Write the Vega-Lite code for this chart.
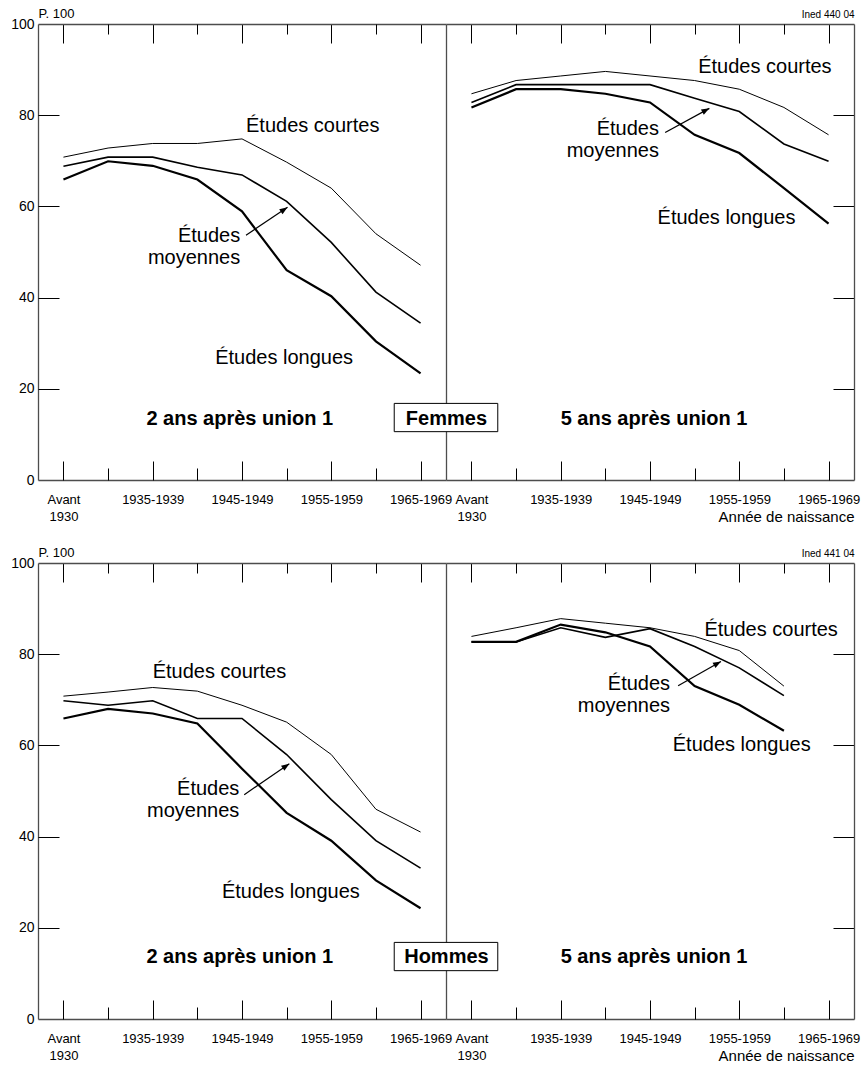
{
  "$schema": "https://vega.github.io/schema/vega-lite/v6.json",
  "padding": {"left": 10, "top": 7, "right": 5, "bottom": 2},
  "bounds": "flush",
  "columns": 2,
  "spacing": {"row": 83, "column": 0},
  "datasets": {
    "taux": [
      {"sexe": "Femmes", "duree": "2 ans", "niveau": "courtes", "cohorte": 0, "p": 70.8},
      {"sexe": "Femmes", "duree": "2 ans", "niveau": "courtes", "cohorte": 1, "p": 72.8},
      {"sexe": "Femmes", "duree": "2 ans", "niveau": "courtes", "cohorte": 2, "p": 73.8},
      {"sexe": "Femmes", "duree": "2 ans", "niveau": "courtes", "cohorte": 3, "p": 73.8},
      {"sexe": "Femmes", "duree": "2 ans", "niveau": "courtes", "cohorte": 4, "p": 74.8},
      {"sexe": "Femmes", "duree": "2 ans", "niveau": "courtes", "cohorte": 5, "p": 69.7},
      {"sexe": "Femmes", "duree": "2 ans", "niveau": "courtes", "cohorte": 6, "p": 64.0},
      {"sexe": "Femmes", "duree": "2 ans", "niveau": "courtes", "cohorte": 7, "p": 54.0},
      {"sexe": "Femmes", "duree": "2 ans", "niveau": "courtes", "cohorte": 8, "p": 47.1},
      {"sexe": "Femmes", "duree": "2 ans", "niveau": "moyennes", "cohorte": 0, "p": 68.8},
      {"sexe": "Femmes", "duree": "2 ans", "niveau": "moyennes", "cohorte": 1, "p": 70.8},
      {"sexe": "Femmes", "duree": "2 ans", "niveau": "moyennes", "cohorte": 2, "p": 70.8},
      {"sexe": "Femmes", "duree": "2 ans", "niveau": "moyennes", "cohorte": 3, "p": 68.6},
      {"sexe": "Femmes", "duree": "2 ans", "niveau": "moyennes", "cohorte": 4, "p": 66.9},
      {"sexe": "Femmes", "duree": "2 ans", "niveau": "moyennes", "cohorte": 5, "p": 61.1},
      {"sexe": "Femmes", "duree": "2 ans", "niveau": "moyennes", "cohorte": 6, "p": 52.1},
      {"sexe": "Femmes", "duree": "2 ans", "niveau": "moyennes", "cohorte": 7, "p": 41.2},
      {"sexe": "Femmes", "duree": "2 ans", "niveau": "moyennes", "cohorte": 8, "p": 34.4},
      {"sexe": "Femmes", "duree": "2 ans", "niveau": "longues", "cohorte": 0, "p": 65.9},
      {"sexe": "Femmes", "duree": "2 ans", "niveau": "longues", "cohorte": 1, "p": 69.9},
      {"sexe": "Femmes", "duree": "2 ans", "niveau": "longues", "cohorte": 2, "p": 68.9},
      {"sexe": "Femmes", "duree": "2 ans", "niveau": "longues", "cohorte": 3, "p": 65.9},
      {"sexe": "Femmes", "duree": "2 ans", "niveau": "longues", "cohorte": 4, "p": 58.9},
      {"sexe": "Femmes", "duree": "2 ans", "niveau": "longues", "cohorte": 5, "p": 46.0},
      {"sexe": "Femmes", "duree": "2 ans", "niveau": "longues", "cohorte": 6, "p": 40.3},
      {"sexe": "Femmes", "duree": "2 ans", "niveau": "longues", "cohorte": 7, "p": 30.4},
      {"sexe": "Femmes", "duree": "2 ans", "niveau": "longues", "cohorte": 8, "p": 23.4},
      {"sexe": "Femmes", "duree": "5 ans", "niveau": "courtes", "cohorte": 0, "p": 84.7},
      {"sexe": "Femmes", "duree": "5 ans", "niveau": "courtes", "cohorte": 1, "p": 87.6},
      {"sexe": "Femmes", "duree": "5 ans", "niveau": "courtes", "cohorte": 2, "p": 88.6},
      {"sexe": "Femmes", "duree": "5 ans", "niveau": "courtes", "cohorte": 3, "p": 89.6},
      {"sexe": "Femmes", "duree": "5 ans", "niveau": "courtes", "cohorte": 4, "p": 88.6},
      {"sexe": "Femmes", "duree": "5 ans", "niveau": "courtes", "cohorte": 5, "p": 87.6},
      {"sexe": "Femmes", "duree": "5 ans", "niveau": "courtes", "cohorte": 6, "p": 85.7},
      {"sexe": "Femmes", "duree": "5 ans", "niveau": "courtes", "cohorte": 7, "p": 81.7},
      {"sexe": "Femmes", "duree": "5 ans", "niveau": "courtes", "cohorte": 8, "p": 75.7},
      {"sexe": "Femmes", "duree": "5 ans", "niveau": "moyennes", "cohorte": 0, "p": 82.8},
      {"sexe": "Femmes", "duree": "5 ans", "niveau": "moyennes", "cohorte": 1, "p": 86.7},
      {"sexe": "Femmes", "duree": "5 ans", "niveau": "moyennes", "cohorte": 2, "p": 86.7},
      {"sexe": "Femmes", "duree": "5 ans", "niveau": "moyennes", "cohorte": 3, "p": 86.7},
      {"sexe": "Femmes", "duree": "5 ans", "niveau": "moyennes", "cohorte": 4, "p": 86.7},
      {"sexe": "Femmes", "duree": "5 ans", "niveau": "moyennes", "cohorte": 5, "p": 83.7},
      {"sexe": "Femmes", "duree": "5 ans", "niveau": "moyennes", "cohorte": 6, "p": 80.8},
      {"sexe": "Femmes", "duree": "5 ans", "niveau": "moyennes", "cohorte": 7, "p": 73.7},
      {"sexe": "Femmes", "duree": "5 ans", "niveau": "moyennes", "cohorte": 8, "p": 69.9},
      {"sexe": "Femmes", "duree": "5 ans", "niveau": "longues", "cohorte": 0, "p": 81.7},
      {"sexe": "Femmes", "duree": "5 ans", "niveau": "longues", "cohorte": 1, "p": 85.7},
      {"sexe": "Femmes", "duree": "5 ans", "niveau": "longues", "cohorte": 2, "p": 85.7},
      {"sexe": "Femmes", "duree": "5 ans", "niveau": "longues", "cohorte": 3, "p": 84.7},
      {"sexe": "Femmes", "duree": "5 ans", "niveau": "longues", "cohorte": 4, "p": 82.8},
      {"sexe": "Femmes", "duree": "5 ans", "niveau": "longues", "cohorte": 5, "p": 75.7},
      {"sexe": "Femmes", "duree": "5 ans", "niveau": "longues", "cohorte": 6, "p": 71.7},
      {"sexe": "Femmes", "duree": "5 ans", "niveau": "longues", "cohorte": 7, "p": 64.0},
      {"sexe": "Femmes", "duree": "5 ans", "niveau": "longues", "cohorte": 8, "p": 56.2},
      {"sexe": "Hommes", "duree": "2 ans", "niveau": "courtes", "cohorte": 0, "p": 70.8},
      {"sexe": "Hommes", "duree": "2 ans", "niveau": "courtes", "cohorte": 1, "p": 71.7},
      {"sexe": "Hommes", "duree": "2 ans", "niveau": "courtes", "cohorte": 2, "p": 72.7},
      {"sexe": "Hommes", "duree": "2 ans", "niveau": "courtes", "cohorte": 3, "p": 71.9},
      {"sexe": "Hommes", "duree": "2 ans", "niveau": "courtes", "cohorte": 4, "p": 68.8},
      {"sexe": "Hommes", "duree": "2 ans", "niveau": "courtes", "cohorte": 5, "p": 65.1},
      {"sexe": "Hommes", "duree": "2 ans", "niveau": "courtes", "cohorte": 6, "p": 58.0},
      {"sexe": "Hommes", "duree": "2 ans", "niveau": "courtes", "cohorte": 7, "p": 46.0},
      {"sexe": "Hommes", "duree": "2 ans", "niveau": "courtes", "cohorte": 8, "p": 41.0},
      {"sexe": "Hommes", "duree": "2 ans", "niveau": "moyennes", "cohorte": 0, "p": 69.8},
      {"sexe": "Hommes", "duree": "2 ans", "niveau": "moyennes", "cohorte": 1, "p": 68.8},
      {"sexe": "Hommes", "duree": "2 ans", "niveau": "moyennes", "cohorte": 2, "p": 69.8},
      {"sexe": "Hommes", "duree": "2 ans", "niveau": "moyennes", "cohorte": 3, "p": 65.9},
      {"sexe": "Hommes", "duree": "2 ans", "niveau": "moyennes", "cohorte": 4, "p": 65.9},
      {"sexe": "Hommes", "duree": "2 ans", "niveau": "moyennes", "cohorte": 5, "p": 58.0},
      {"sexe": "Hommes", "duree": "2 ans", "niveau": "moyennes", "cohorte": 6, "p": 48.1},
      {"sexe": "Hommes", "duree": "2 ans", "niveau": "moyennes", "cohorte": 7, "p": 39.1},
      {"sexe": "Hommes", "duree": "2 ans", "niveau": "moyennes", "cohorte": 8, "p": 33.1},
      {"sexe": "Hommes", "duree": "2 ans", "niveau": "longues", "cohorte": 0, "p": 65.9},
      {"sexe": "Hommes", "duree": "2 ans", "niveau": "longues", "cohorte": 1, "p": 68.0},
      {"sexe": "Hommes", "duree": "2 ans", "niveau": "longues", "cohorte": 2, "p": 67.0},
      {"sexe": "Hommes", "duree": "2 ans", "niveau": "longues", "cohorte": 3, "p": 64.8},
      {"sexe": "Hommes", "duree": "2 ans", "niveau": "longues", "cohorte": 4, "p": 54.9},
      {"sexe": "Hommes", "duree": "2 ans", "niveau": "longues", "cohorte": 5, "p": 45.2},
      {"sexe": "Hommes", "duree": "2 ans", "niveau": "longues", "cohorte": 6, "p": 39.1},
      {"sexe": "Hommes", "duree": "2 ans", "niveau": "longues", "cohorte": 7, "p": 30.4},
      {"sexe": "Hommes", "duree": "2 ans", "niveau": "longues", "cohorte": 8, "p": 24.3},
      {"sexe": "Hommes", "duree": "5 ans", "niveau": "courtes", "cohorte": 0, "p": 83.9},
      {"sexe": "Hommes", "duree": "5 ans", "niveau": "courtes", "cohorte": 1, "p": 85.8},
      {"sexe": "Hommes", "duree": "5 ans", "niveau": "courtes", "cohorte": 2, "p": 87.8},
      {"sexe": "Hommes", "duree": "5 ans", "niveau": "courtes", "cohorte": 3, "p": 86.8},
      {"sexe": "Hommes", "duree": "5 ans", "niveau": "courtes", "cohorte": 4, "p": 85.8},
      {"sexe": "Hommes", "duree": "5 ans", "niveau": "courtes", "cohorte": 5, "p": 83.9},
      {"sexe": "Hommes", "duree": "5 ans", "niveau": "courtes", "cohorte": 6, "p": 80.8},
      {"sexe": "Hommes", "duree": "5 ans", "niveau": "courtes", "cohorte": 7, "p": 73.0},
      {"sexe": "Hommes", "duree": "5 ans", "niveau": "moyennes", "cohorte": 0, "p": 82.7},
      {"sexe": "Hommes", "duree": "5 ans", "niveau": "moyennes", "cohorte": 1, "p": 82.7},
      {"sexe": "Hommes", "duree": "5 ans", "niveau": "moyennes", "cohorte": 2, "p": 85.8},
      {"sexe": "Hommes", "duree": "5 ans", "niveau": "moyennes", "cohorte": 3, "p": 83.7},
      {"sexe": "Hommes", "duree": "5 ans", "niveau": "moyennes", "cohorte": 4, "p": 85.6},
      {"sexe": "Hommes", "duree": "5 ans", "niveau": "moyennes", "cohorte": 5, "p": 81.7},
      {"sexe": "Hommes", "duree": "5 ans", "niveau": "moyennes", "cohorte": 6, "p": 77.0},
      {"sexe": "Hommes", "duree": "5 ans", "niveau": "moyennes", "cohorte": 7, "p": 70.9},
      {"sexe": "Hommes", "duree": "5 ans", "niveau": "longues", "cohorte": 0, "p": 82.7},
      {"sexe": "Hommes", "duree": "5 ans", "niveau": "longues", "cohorte": 1, "p": 82.7},
      {"sexe": "Hommes", "duree": "5 ans", "niveau": "longues", "cohorte": 2, "p": 86.5},
      {"sexe": "Hommes", "duree": "5 ans", "niveau": "longues", "cohorte": 3, "p": 84.8},
      {"sexe": "Hommes", "duree": "5 ans", "niveau": "longues", "cohorte": 4, "p": 81.7},
      {"sexe": "Hommes", "duree": "5 ans", "niveau": "longues", "cohorte": 5, "p": 73.0},
      {"sexe": "Hommes", "duree": "5 ans", "niveau": "longues", "cohorte": 6, "p": 68.9},
      {"sexe": "Hommes", "duree": "5 ans", "niveau": "longues", "cohorte": 7, "p": 63.2}
    ]
  },
  "concat": [
    {
      "width": 408,
      "height": 456,
      "layer": [
        {
          "data": {"name": "taux"},
          "transform": [{"filter": "datum.sexe == 'Femmes' && datum.duree == '2 ans'"}],
          "mark": {"type": "line", "color": "#000"},
          "encoding": {
            "x": {"field": "cohorte", "type": "quantitative", "scale": {"domain": [-0.57, 8.57], "nice": false, "zero": false},
              "axis": {"orient": "bottom", "values": [0, 2, 4, 6, 8], "ticks": false, "domain": true, "labelFontSize": 13, "labelPadding": 23, "labelBaseline": "alphabetic", "labelLineHeight": 17.5, "labelExpr": "datum.value == 0 ? ['Avant', '1930'] : (1925 + 5 * datum.value) + '-' + (1929 + 5 * datum.value)", "title": null}},
            "y": {"field": "p", "type": "quantitative", "scale": {"domain": [0, 100], "nice": false, "zero": false},
              "axis": {"orient": "left", "values": [0, 20, 40, 60, 80, 100], "ticks": false, "domain": true, "labelFontSize": 14, "labelPadding": 4, "title": "P. 100", "titleAngle": 0, "titleX": 0, "titleY": -6.5, "titleAlign": "left", "titleBaseline": "alphabetic", "titleFontSize": 13}},
            "strokeWidth": {"field": "niveau", "type": "ordinal", "scale": {"domain": ["courtes", "moyennes", "longues"], "range": [1, 2.2, 3.3]}, "legend": null},
            "detail": {"field": "niveau"}
          }
        },
        {
          "data": {"values": [{}]},
          "mark": {"type": "text", "text": "Études courtes", "align": "left", "baseline": "alphabetic", "fontSize": 20},
          "encoding": {
            "x": {"datum": 4.09, "type": "quantitative", "scale": {"domain": [-0.57, 8.57], "nice": false, "zero": false},
              "axis": {"orient": "bottom", "values": [0, 2, 4, 6, 8], "labels": false, "domain": false, "tickSize": -19, "title": null}},
            "y": {"datum": 76.3, "type": "quantitative", "scale": {"domain": [0, 100], "nice": false, "zero": false},
              "axis": {"orient": "left", "values": [20, 40, 60, 80], "labels": false, "domain": false, "tickSize": -21, "title": null}}
          }
        },
        {
          "data": {"values": [{}]},
          "mark": {"type": "text", "text": ["Études", "moyennes"], "align": "right", "baseline": "alphabetic", "fontSize": 20, "lineHeight": 22},
          "encoding": {
            "x": {"datum": 3.96, "type": "quantitative", "scale": {"domain": [-0.57, 8.57], "nice": false, "zero": false},
              "axis": {"orient": "bottom", "values": [1, 3, 5, 7], "labels": false, "domain": false, "tickSize": -12, "title": null}},
            "y": {"datum": 52.3, "type": "quantitative", "scale": {"domain": [0, 100], "nice": false, "zero": false}, "axis": null}
          }
        },
        {
          "data": {"values": [{}]},
          "mark": {"type": "text", "text": "Études longues", "align": "left", "baseline": "alphabetic", "fontSize": 20},
          "encoding": {
            "x": {"datum": 3.4, "type": "quantitative", "scale": {"domain": [-0.57, 8.57], "nice": false, "zero": false},
              "axis": {"orient": "top", "values": [0, 2, 4, 6, 8], "labels": false, "domain": true, "tickSize": -19, "title": null}},
            "y": {"datum": 25.5, "type": "quantitative", "scale": {"domain": [0, 100], "nice": false, "zero": false}, "axis": null}
          }
        },
        {
          "data": {"values": [{}]},
          "mark": {"type": "text", "text": "2 ans après union 1", "align": "center", "baseline": "alphabetic", "fontSize": 20, "fontWeight": "bold"},
          "encoding": {
            "x": {"datum": 3.95, "type": "quantitative", "scale": {"domain": [-0.57, 8.57], "nice": false, "zero": false},
              "axis": {"orient": "top", "values": [1, 3, 5, 7], "labels": false, "domain": false, "tickSize": -10, "title": null}},
            "y": {"datum": 12.1, "type": "quantitative", "scale": {"domain": [0, 100], "nice": false, "zero": false}, "axis": null}
          }
        },
        {
          "data": {"values": [{}]},
          "mark": {"type": "rule", "color": "#000", "strokeWidth": 1.2},
          "encoding": {
            "x": {"datum": 4.09, "type": "quantitative", "scale": {"domain": [-0.57, 8.57], "nice": false, "zero": false}, "axis": null},
            "y": {"datum": 53.7, "type": "quantitative", "scale": {"domain": [0, 100], "nice": false, "zero": false}, "axis": null},
            "x2": {"datum": 5.02},
            "y2": {"datum": 59.8}
          }
        },
        {
          "data": {"values": [{}]},
          "mark": {"type": "point", "shape": "M0,0L-2,-0.75L-2,0.75Z", "filled": true, "color": "#000", "opacity": 1, "size": 64, "angle": -33.6},
          "encoding": {
            "x": {"datum": 5.02, "type": "quantitative", "scale": {"domain": [-0.57, 8.57], "nice": false, "zero": false}, "axis": null},
            "y": {"datum": 59.8, "type": "quantitative", "scale": {"domain": [0, 100], "nice": false, "zero": false}, "axis": null}
          }
        }
      ],
      "resolve": {"axis": {"x": "independent", "y": "independent"}}
    },
    {
      "width": 408,
      "height": 456,
      "layer": [
        {
          "data": {"name": "taux"},
          "transform": [{"filter": "datum.sexe == 'Femmes' && datum.duree == '5 ans'"}],
          "mark": {"type": "line", "color": "#000"},
          "encoding": {
            "x": {"field": "cohorte", "type": "quantitative", "scale": {"domain": [-0.57, 8.57], "nice": false, "zero": false},
              "axis": {"orient": "bottom", "values": [0, 2, 4, 6, 8], "ticks": false, "domain": true, "labelFontSize": 13, "labelPadding": 23, "labelBaseline": "alphabetic", "labelLineHeight": 17.5, "labelExpr": "datum.value == 0 ? ['Avant', '1930'] : (1925 + 5 * datum.value) + '-' + (1929 + 5 * datum.value)", "title": "Année de naissance", "titleX": 408, "titleY": 41, "titleAlign": "right", "titleBaseline": "alphabetic", "titleFontSize": 15}},
            "y": {"field": "p", "type": "quantitative", "scale": {"domain": [0, 100], "nice": false, "zero": false},
              "axis": {"orient": "left", "ticks": false, "labels": false, "domain": true, "title": null}},
            "strokeWidth": {"field": "niveau", "type": "ordinal", "scale": {"domain": ["courtes", "moyennes", "longues"], "range": [1, 2.2, 3.3]}, "legend": null},
            "detail": {"field": "niveau"}
          }
        },
        {
          "data": {"values": [{}]},
          "mark": {"type": "text", "text": "Études courtes", "align": "left", "baseline": "alphabetic", "fontSize": 20},
          "encoding": {
            "x": {"datum": 5.08, "type": "quantitative", "scale": {"domain": [-0.57, 8.57], "nice": false, "zero": false},
              "axis": {"orient": "bottom", "values": [0, 2, 4, 6, 8], "labels": false, "domain": false, "tickSize": -19, "title": null}},
            "y": {"datum": 89.2, "type": "quantitative", "scale": {"domain": [0, 100], "nice": false, "zero": false},
              "axis": {"orient": "right", "values": [20, 40, 60, 80], "labels": false, "domain": true, "tickSize": -21, "title": "Ined 440 04", "titleAngle": 0, "titleX": 0, "titleY": -6.5, "titleAlign": "right", "titleBaseline": "alphabetic", "titleFontSize": 10}}
          }
        },
        {
          "data": {"values": [{}]},
          "mark": {"type": "text", "text": ["Études", "moyennes"], "align": "right", "baseline": "alphabetic", "fontSize": 20, "lineHeight": 22},
          "encoding": {
            "x": {"datum": 4.2, "type": "quantitative", "scale": {"domain": [-0.57, 8.57], "nice": false, "zero": false},
              "axis": {"orient": "bottom", "values": [1, 3, 5, 7], "labels": false, "domain": false, "tickSize": -12, "title": null}},
            "y": {"datum": 75.7, "type": "quantitative", "scale": {"domain": [0, 100], "nice": false, "zero": false}, "axis": null}
          }
        },
        {
          "data": {"values": [{}]},
          "mark": {"type": "text", "text": "Études longues", "align": "left", "baseline": "alphabetic", "fontSize": 20},
          "encoding": {
            "x": {"datum": 4.17, "type": "quantitative", "scale": {"domain": [-0.57, 8.57], "nice": false, "zero": false},
              "axis": {"orient": "top", "values": [0, 2, 4, 6, 8], "labels": false, "domain": true, "tickSize": -19, "title": null}},
            "y": {"datum": 56.1, "type": "quantitative", "scale": {"domain": [0, 100], "nice": false, "zero": false}, "axis": null}
          }
        },
        {
          "data": {"values": [{}]},
          "mark": {"type": "text", "text": "5 ans après union 1", "align": "center", "baseline": "alphabetic", "fontSize": 20, "fontWeight": "bold"},
          "encoding": {
            "x": {"datum": 4.09, "type": "quantitative", "scale": {"domain": [-0.57, 8.57], "nice": false, "zero": false},
              "axis": {"orient": "top", "values": [1, 3, 5, 7], "labels": false, "domain": false, "tickSize": -10, "title": null}},
            "y": {"datum": 12.1, "type": "quantitative", "scale": {"domain": [0, 100], "nice": false, "zero": false}, "axis": null}
          }
        },
        {
          "data": {"values": [{}]},
          "mark": {"type": "rule", "color": "#000", "strokeWidth": 1.2},
          "encoding": {
            "x": {"datum": 4.34, "type": "quantitative", "scale": {"domain": [-0.57, 8.57], "nice": false, "zero": false}, "axis": null},
            "y": {"datum": 76.2, "type": "quantitative", "scale": {"domain": [0, 100], "nice": false, "zero": false}, "axis": null},
            "x2": {"datum": 5.33},
            "y2": {"datum": 81.5}
          }
        },
        {
          "data": {"values": [{}]},
          "mark": {"type": "point", "shape": "M0,0L-2,-0.75L-2,0.75Z", "filled": true, "color": "#000", "opacity": 1, "size": 64, "angle": -28.8},
          "encoding": {
            "x": {"datum": 5.33, "type": "quantitative", "scale": {"domain": [-0.57, 8.57], "nice": false, "zero": false}, "axis": null},
            "y": {"datum": 81.5, "type": "quantitative", "scale": {"domain": [0, 100], "nice": false, "zero": false}, "axis": null}
          }
        },
        {
          "data": {"values": [{}]},
          "mark": {"type": "rect", "fill": "#fff", "stroke": "#000", "strokeWidth": 1},
          "encoding": {
            "x": {"datum": -1.73, "type": "quantitative", "scale": {"domain": [-0.57, 8.57], "nice": false, "zero": false}, "axis": null},
            "x2": {"datum": 0.59},
            "y": {"datum": 10.6, "type": "quantitative", "scale": {"domain": [0, 100], "nice": false, "zero": false}, "axis": null},
            "y2": {"datum": 16.8}
          }
        },
        {
          "data": {"values": [{}]},
          "mark": {"type": "text", "text": "Femmes", "align": "center", "baseline": "alphabetic", "fontSize": 20, "fontWeight": "bold"},
          "encoding": {
            "x": {"datum": -0.56, "type": "quantitative", "scale": {"domain": [-0.57, 8.57], "nice": false, "zero": false}, "axis": null},
            "y": {"datum": 12.1, "type": "quantitative", "scale": {"domain": [0, 100], "nice": false, "zero": false}, "axis": null}
          }
        }
      ],
      "resolve": {"axis": {"x": "independent", "y": "independent"}}
    },
    {
      "width": 408,
      "height": 456,
      "layer": [
        {
          "data": {"name": "taux"},
          "transform": [{"filter": "datum.sexe == 'Hommes' && datum.duree == '2 ans'"}],
          "mark": {"type": "line", "color": "#000"},
          "encoding": {
            "x": {"field": "cohorte", "type": "quantitative", "scale": {"domain": [-0.57, 8.57], "nice": false, "zero": false},
              "axis": {"orient": "bottom", "values": [0, 2, 4, 6, 8], "ticks": false, "domain": true, "labelFontSize": 13, "labelPadding": 23, "labelBaseline": "alphabetic", "labelLineHeight": 17.5, "labelExpr": "datum.value == 0 ? ['Avant', '1930'] : (1925 + 5 * datum.value) + '-' + (1929 + 5 * datum.value)", "title": null}},
            "y": {"field": "p", "type": "quantitative", "scale": {"domain": [0, 100], "nice": false, "zero": false},
              "axis": {"orient": "left", "values": [0, 20, 40, 60, 80, 100], "ticks": false, "domain": true, "labelFontSize": 14, "labelPadding": 4, "title": "P. 100", "titleAngle": 0, "titleX": 0, "titleY": -6.5, "titleAlign": "left", "titleBaseline": "alphabetic", "titleFontSize": 13}},
            "strokeWidth": {"field": "niveau", "type": "ordinal", "scale": {"domain": ["courtes", "moyennes", "longues"], "range": [1, 2.2, 3.3]}, "legend": null},
            "detail": {"field": "niveau"}
          }
        },
        {
          "data": {"values": [{}]},
          "mark": {"type": "text", "text": "Études courtes", "align": "left", "baseline": "alphabetic", "fontSize": 20},
          "encoding": {
            "x": {"datum": 2.0, "type": "quantitative", "scale": {"domain": [-0.57, 8.57], "nice": false, "zero": false},
              "axis": {"orient": "bottom", "values": [0, 2, 4, 6, 8], "labels": false, "domain": false, "tickSize": -19, "title": null}},
            "y": {"datum": 74.8, "type": "quantitative", "scale": {"domain": [0, 100], "nice": false, "zero": false},
              "axis": {"orient": "left", "values": [20, 40, 60, 80], "labels": false, "domain": false, "tickSize": -21, "title": null}}
          }
        },
        {
          "data": {"values": [{}]},
          "mark": {"type": "text", "text": ["Études", "moyennes"], "align": "right", "baseline": "alphabetic", "fontSize": 20, "lineHeight": 22},
          "encoding": {
            "x": {"datum": 3.94, "type": "quantitative", "scale": {"domain": [-0.57, 8.57], "nice": false, "zero": false},
              "axis": {"orient": "bottom", "values": [1, 3, 5, 7], "labels": false, "domain": false, "tickSize": -12, "title": null}},
            "y": {"datum": 49.2, "type": "quantitative", "scale": {"domain": [0, 100], "nice": false, "zero": false}, "axis": null}
          }
        },
        {
          "data": {"values": [{}]},
          "mark": {"type": "text", "text": "Études longues", "align": "left", "baseline": "alphabetic", "fontSize": 20},
          "encoding": {
            "x": {"datum": 3.55, "type": "quantitative", "scale": {"domain": [-0.57, 8.57], "nice": false, "zero": false},
              "axis": {"orient": "top", "values": [0, 2, 4, 6, 8], "labels": false, "domain": true, "tickSize": -19, "title": null}},
            "y": {"datum": 26.6, "type": "quantitative", "scale": {"domain": [0, 100], "nice": false, "zero": false}, "axis": null}
          }
        },
        {
          "data": {"values": [{}]},
          "mark": {"type": "text", "text": "2 ans après union 1", "align": "center", "baseline": "alphabetic", "fontSize": 20, "fontWeight": "bold"},
          "encoding": {
            "x": {"datum": 3.95, "type": "quantitative", "scale": {"domain": [-0.57, 8.57], "nice": false, "zero": false},
              "axis": {"orient": "top", "values": [1, 3, 5, 7], "labels": false, "domain": false, "tickSize": -10, "title": null}},
            "y": {"datum": 12.2, "type": "quantitative", "scale": {"domain": [0, 100], "nice": false, "zero": false}, "axis": null}
          }
        },
        {
          "data": {"values": [{}]},
          "mark": {"type": "rule", "color": "#000", "strokeWidth": 1.2},
          "encoding": {
            "x": {"datum": 4.05, "type": "quantitative", "scale": {"domain": [-0.57, 8.57], "nice": false, "zero": false}, "axis": null},
            "y": {"datum": 49.2, "type": "quantitative", "scale": {"domain": [0, 100], "nice": false, "zero": false}, "axis": null},
            "x2": {"datum": 5.06},
            "y2": {"datum": 56.0}
          }
        },
        {
          "data": {"values": [{}]},
          "mark": {"type": "point", "shape": "M0,0L-2,-0.75L-2,0.75Z", "filled": true, "color": "#000", "opacity": 1, "size": 64, "angle": -34.6},
          "encoding": {
            "x": {"datum": 5.06, "type": "quantitative", "scale": {"domain": [-0.57, 8.57], "nice": false, "zero": false}, "axis": null},
            "y": {"datum": 56.0, "type": "quantitative", "scale": {"domain": [0, 100], "nice": false, "zero": false}, "axis": null}
          }
        }
      ],
      "resolve": {"axis": {"x": "independent", "y": "independent"}}
    },
    {
      "width": 408,
      "height": 456,
      "layer": [
        {
          "data": {"name": "taux"},
          "transform": [{"filter": "datum.sexe == 'Hommes' && datum.duree == '5 ans'"}],
          "mark": {"type": "line", "color": "#000"},
          "encoding": {
            "x": {"field": "cohorte", "type": "quantitative", "scale": {"domain": [-0.57, 8.57], "nice": false, "zero": false},
              "axis": {"orient": "bottom", "values": [0, 2, 4, 6, 8], "ticks": false, "domain": true, "labelFontSize": 13, "labelPadding": 23, "labelBaseline": "alphabetic", "labelLineHeight": 17.5, "labelExpr": "datum.value == 0 ? ['Avant', '1930'] : (1925 + 5 * datum.value) + '-' + (1929 + 5 * datum.value)", "title": "Année de naissance", "titleX": 408, "titleY": 41, "titleAlign": "right", "titleBaseline": "alphabetic", "titleFontSize": 15}},
            "y": {"field": "p", "type": "quantitative", "scale": {"domain": [0, 100], "nice": false, "zero": false},
              "axis": {"orient": "left", "ticks": false, "labels": false, "domain": true, "title": null}},
            "strokeWidth": {"field": "niveau", "type": "ordinal", "scale": {"domain": ["courtes", "moyennes", "longues"], "range": [1, 2.2, 3.3]}, "legend": null},
            "detail": {"field": "niveau"}
          }
        },
        {
          "data": {"values": [{}]},
          "mark": {"type": "text", "text": "Études courtes", "align": "left", "baseline": "alphabetic", "fontSize": 20},
          "encoding": {
            "x": {"datum": 5.22, "type": "quantitative", "scale": {"domain": [-0.57, 8.57], "nice": false, "zero": false},
              "axis": {"orient": "bottom", "values": [0, 2, 4, 6, 8], "labels": false, "domain": false, "tickSize": -19, "title": null}},
            "y": {"datum": 83.9, "type": "quantitative", "scale": {"domain": [0, 100], "nice": false, "zero": false},
              "axis": {"orient": "right", "values": [20, 40, 60, 80], "labels": false, "domain": true, "tickSize": -21, "title": "Ined 441 04", "titleAngle": 0, "titleX": 0, "titleY": -6.5, "titleAlign": "right", "titleBaseline": "alphabetic", "titleFontSize": 10}}
          }
        },
        {
          "data": {"values": [{}]},
          "mark": {"type": "text", "text": ["Études", "moyennes"], "align": "right", "baseline": "alphabetic", "fontSize": 20, "lineHeight": 22},
          "encoding": {
            "x": {"datum": 4.45, "type": "quantitative", "scale": {"domain": [-0.57, 8.57], "nice": false, "zero": false},
              "axis": {"orient": "bottom", "values": [1, 3, 5, 7], "labels": false, "domain": false, "tickSize": -12, "title": null}},
            "y": {"datum": 72.2, "type": "quantitative", "scale": {"domain": [0, 100], "nice": false, "zero": false}, "axis": null}
          }
        },
        {
          "data": {"values": [{}]},
          "mark": {"type": "text", "text": "Études longues", "align": "left", "baseline": "alphabetic", "fontSize": 20},
          "encoding": {
            "x": {"datum": 4.51, "type": "quantitative", "scale": {"domain": [-0.57, 8.57], "nice": false, "zero": false},
              "axis": {"orient": "top", "values": [0, 2, 4, 6, 8], "labels": false, "domain": true, "tickSize": -19, "title": null}},
            "y": {"datum": 58.8, "type": "quantitative", "scale": {"domain": [0, 100], "nice": false, "zero": false}, "axis": null}
          }
        },
        {
          "data": {"values": [{}]},
          "mark": {"type": "text", "text": "5 ans après union 1", "align": "center", "baseline": "alphabetic", "fontSize": 20, "fontWeight": "bold"},
          "encoding": {
            "x": {"datum": 4.09, "type": "quantitative", "scale": {"domain": [-0.57, 8.57], "nice": false, "zero": false},
              "axis": {"orient": "top", "values": [1, 3, 5, 7], "labels": false, "domain": false, "tickSize": -10, "title": null}},
            "y": {"datum": 12.2, "type": "quantitative", "scale": {"domain": [0, 100], "nice": false, "zero": false}, "axis": null}
          }
        },
        {
          "data": {"values": [{}]},
          "mark": {"type": "rule", "color": "#000", "strokeWidth": 1.2},
          "encoding": {
            "x": {"datum": 4.63, "type": "quantitative", "scale": {"domain": [-0.57, 8.57], "nice": false, "zero": false}, "axis": null},
            "y": {"datum": 73.1, "type": "quantitative", "scale": {"domain": [0, 100], "nice": false, "zero": false}, "axis": null},
            "x2": {"datum": 5.59},
            "y2": {"datum": 78.4}
          }
        },
        {
          "data": {"values": [{}]},
          "mark": {"type": "point", "shape": "M0,0L-2,-0.75L-2,0.75Z", "filled": true, "color": "#000", "opacity": 1, "size": 64, "angle": -29.6},
          "encoding": {
            "x": {"datum": 5.59, "type": "quantitative", "scale": {"domain": [-0.57, 8.57], "nice": false, "zero": false}, "axis": null},
            "y": {"datum": 78.4, "type": "quantitative", "scale": {"domain": [0, 100], "nice": false, "zero": false}, "axis": null}
          }
        },
        {
          "data": {"values": [{}]},
          "mark": {"type": "rect", "fill": "#fff", "stroke": "#000", "strokeWidth": 1},
          "encoding": {
            "x": {"datum": -1.73, "type": "quantitative", "scale": {"domain": [-0.57, 8.57], "nice": false, "zero": false}, "axis": null},
            "x2": {"datum": 0.59},
            "y": {"datum": 10.6, "type": "quantitative", "scale": {"domain": [0, 100], "nice": false, "zero": false}, "axis": null},
            "y2": {"datum": 16.8}
          }
        },
        {
          "data": {"values": [{}]},
          "mark": {"type": "text", "text": "Hommes", "align": "center", "baseline": "alphabetic", "fontSize": 20, "fontWeight": "bold"},
          "encoding": {
            "x": {"datum": -0.56, "type": "quantitative", "scale": {"domain": [-0.57, 8.57], "nice": false, "zero": false}, "axis": null},
            "y": {"datum": 12.2, "type": "quantitative", "scale": {"domain": [0, 100], "nice": false, "zero": false}, "axis": null}
          }
        }
      ],
      "resolve": {"axis": {"x": "independent", "y": "independent"}}
    }
  ],
  "config": {
    "font": "Liberation Sans",
    "view": {"stroke": null},
    "axis": {
      "grid": false,
      "domainColor": "#4d4d4d",
      "domainWidth": 1.3,
      "tickColor": "#000",
      "tickWidth": 1,
      "labelColor": "#000",
      "labelFont": "Liberation Sans",
      "titleColor": "#000",
      "titleFont": "Liberation Sans",
      "titleFontWeight": "normal",
      "labelFlush": false,
      "labelOverlap": false
    },
    "text": {"color": "#000", "font": "Liberation Sans"}
  }
}
